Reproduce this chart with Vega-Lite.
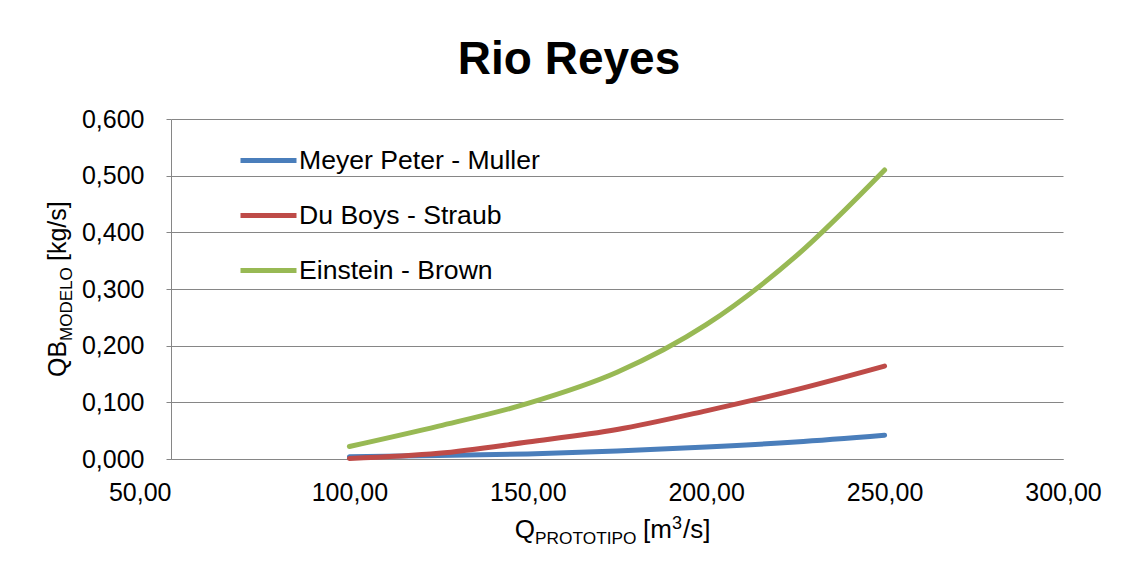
{
  "$schema": "https://vega.github.io/schema/vega-lite/v6.json",
  "width": 892,
  "height": 340,
  "autosize": {"type": "none"},
  "padding": {"left": 171, "top": 119, "right": 60, "bottom": 113},
  "background": "white",
  "title": {
    "text": "Rio Reyes",
    "font": "Liberation Sans",
    "fontSize": 46,
    "fontWeight": "bold",
    "color": "black",
    "anchor": "middle",
    "baseline": "alphabetic",
    "dx": -48,
    "offset": -13
  },
  "config": {
    "locale": {"number": {"decimal": ",", "thousands": ".", "grouping": [3], "currency": ["", " €"]}},
    "view": {"stroke": null},
    "font": "Liberation Sans",
    "axis": {
      "labelFont": "Liberation Sans",
      "labelFontSize": 25,
      "labelColor": "black",
      "domainColor": "#868686",
      "domainWidth": 1,
      "gridColor": "#868686",
      "gridWidth": 1,
      "tickColor": "#868686",
      "title": null
    }
  },
  "datasets": {
    "curvas": [
      {"q": 100, "serie": "Meyer Peter - Muller", "qb": 0.004},
      {"q": 125, "serie": "Meyer Peter - Muller", "qb": 0.006},
      {"q": 150, "serie": "Meyer Peter - Muller", "qb": 0.009},
      {"q": 175, "serie": "Meyer Peter - Muller", "qb": 0.014},
      {"q": 200, "serie": "Meyer Peter - Muller", "qb": 0.021},
      {"q": 225, "serie": "Meyer Peter - Muller", "qb": 0.030},
      {"q": 250, "serie": "Meyer Peter - Muller", "qb": 0.042},
      {"q": 100, "serie": "Du Boys - Straub", "qb": 0.001},
      {"q": 125, "serie": "Du Boys - Straub", "qb": 0.010},
      {"q": 150, "serie": "Du Boys - Straub", "qb": 0.030},
      {"q": 175, "serie": "Du Boys - Straub", "qb": 0.052},
      {"q": 200, "serie": "Du Boys - Straub", "qb": 0.085},
      {"q": 225, "serie": "Du Boys - Straub", "qb": 0.122},
      {"q": 250, "serie": "Du Boys - Straub", "qb": 0.164},
      {"q": 100, "serie": "Einstein - Brown", "qb": 0.022},
      {"q": 125, "serie": "Einstein - Brown", "qb": 0.058},
      {"q": 150, "serie": "Einstein - Brown", "qb": 0.098},
      {"q": 175, "serie": "Einstein - Brown", "qb": 0.153},
      {"q": 200, "serie": "Einstein - Brown", "qb": 0.237},
      {"q": 225, "serie": "Einstein - Brown", "qb": 0.357},
      {"q": 250, "serie": "Einstein - Brown", "qb": 0.510}
    ]
  },
  "layer": [
    {
      "data": {"name": "curvas"},
      "mark": {"type": "line", "strokeWidth": 5, "strokeCap": "round", "strokeJoin": "round", "interpolate": "monotone"},
      "encoding": {
        "x": {
          "field": "q",
          "type": "quantitative",
          "scale": {"domain": [50, 300], "nice": false, "zero": false},
          "axis": {
            "values": [50, 100, 150, 200, 250, 300],
            "format": ".2f",
            "grid": false,
            "ticks": false,
            "labelPadding": 21,
            "labelFlush": false,
            "labelOverlap": false,
            "labelAlign": {"condition": {"test": "datum.value <= 50", "value": "right"}, "value": "center"}
          }
        },
        "y": {
          "field": "qb",
          "type": "quantitative",
          "scale": {"domain": [0, 0.6], "nice": false},
          "axis": {
            "values": [0, 0.1, 0.2, 0.3, 0.4, 0.5, 0.6],
            "format": ".3f",
            "grid": true,
            "tickSize": 5,
            "labelPadding": 22
          }
        },
        "color": {
          "field": "serie",
          "type": "nominal",
          "sort": ["Meyer Peter - Muller", "Du Boys - Straub", "Einstein - Brown"],
          "scale": {
            "domain": ["Meyer Peter - Muller", "Du Boys - Straub", "Einstein - Brown"],
            "range": ["#4A7EBB", "#BE4B48", "#98B954"]
          },
          "legend": {
            "orient": "none",
            "legendX": 67,
            "legendY": 11,
            "title": null,
            "padding": 0,
            "symbolType": "stroke",
            "symbolSize": 3136,
            "symbolStrokeWidth": 5,
            "labelFont": "Liberation Sans",
            "labelFontSize": 26.6,
            "labelColor": "black",
            "labelOffset": 0,
            "labelLimit": 0,
            "rowPadding": 10
          }
        }
      }
    },
    {
      "data": {"values": [{}]},
      "mark": {"type": "text", "text": "Q", "font": "Liberation Sans", "fontSize": 26, "color": "black", "align": "right", "baseline": "alphabetic", "dx": -82, "dy": 79},
      "encoding": {"x": {"datum": 175, "type": "quantitative"}, "y": {"datum": 0, "type": "quantitative"}}
    },
    {
      "data": {"values": [{}]},
      "mark": {"type": "text", "text": "PROTOTIPO", "font": "Liberation Sans", "fontSize": 17.3, "color": "black", "align": "left", "baseline": "alphabetic", "dx": -82, "dy": 85},
      "encoding": {"x": {"datum": 175, "type": "quantitative"}, "y": {"datum": 0, "type": "quantitative"}}
    },
    {
      "data": {"values": [{}]},
      "mark": {"type": "text", "text": "[m", "font": "Liberation Sans", "fontSize": 26, "color": "black", "align": "left", "baseline": "alphabetic", "dx": 26, "dy": 79},
      "encoding": {"x": {"datum": 175, "type": "quantitative"}, "y": {"datum": 0, "type": "quantitative"}}
    },
    {
      "data": {"values": [{}]},
      "mark": {"type": "text", "text": "3", "font": "Liberation Sans", "fontSize": 18, "color": "black", "align": "left", "baseline": "alphabetic", "dx": 55, "dy": 70},
      "encoding": {"x": {"datum": 175, "type": "quantitative"}, "y": {"datum": 0, "type": "quantitative"}}
    },
    {
      "data": {"values": [{}]},
      "mark": {"type": "text", "text": "/s]", "font": "Liberation Sans", "fontSize": 26, "color": "black", "align": "left", "baseline": "alphabetic", "dx": 66, "dy": 79},
      "encoding": {"x": {"datum": 175, "type": "quantitative"}, "y": {"datum": 0, "type": "quantitative"}}
    },
    {
      "data": {"values": [{}]},
      "mark": {"type": "text", "text": "QB", "font": "Liberation Sans", "fontSize": 25, "color": "black", "angle": 270, "align": "left", "baseline": "alphabetic", "dx": -88, "dy": -105},
      "encoding": {"x": {"datum": 50, "type": "quantitative"}, "y": {"datum": 0.3, "type": "quantitative"}}
    },
    {
      "data": {"values": [{}]},
      "mark": {"type": "text", "text": "MODELO", "font": "Liberation Sans", "fontSize": 17, "color": "black", "angle": 270, "align": "left", "baseline": "alphabetic", "dx": -52, "dy": -99},
      "encoding": {"x": {"datum": 50, "type": "quantitative"}, "y": {"datum": 0.3, "type": "quantitative"}}
    },
    {
      "data": {"values": [{}]},
      "mark": {"type": "text", "text": "[kg/s]", "font": "Liberation Sans", "fontSize": 25, "color": "black", "angle": 270, "align": "left", "baseline": "alphabetic", "dx": 28, "dy": -105},
      "encoding": {"x": {"datum": 50, "type": "quantitative"}, "y": {"datum": 0.3, "type": "quantitative"}}
    }
  ]
}
